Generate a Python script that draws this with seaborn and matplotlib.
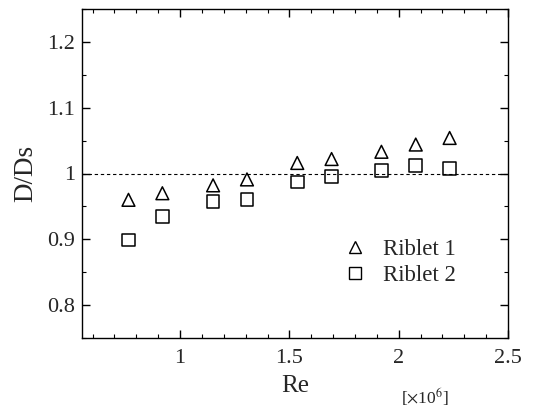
import matplotlib
matplotlib.use("Agg")
import matplotlib.pyplot as plt
from matplotlib.ticker import MultipleLocator
from matplotlib.lines import Line2D
import pandas as pd
import seaborn as sns

# Reynolds number (x 10^6) and drag ratio for two riblet surfaces
re_values = [0.764, 0.919, 1.151, 1.306, 1.536, 1.693, 1.921, 2.078, 2.233]
riblet1 = [0.960, 0.970, 0.982, 0.991, 1.016, 1.022, 1.033, 1.044, 1.054]
riblet2 = [0.899, 0.935, 0.958, 0.960, 0.987, 0.996, 1.005, 1.012, 1.007]
series_names = ["Riblet 1", "Riblet 2"]
x_ticks = [1, 1.5, 2, 2.5]
x_tick_labels = ["1", "1.5", "2", "2.5"]
y_ticks = [0.8, 0.9, 1.0, 1.1, 1.2]
y_tick_labels = ["0.8", "0.9", "1", "1.1", "1.2"]

df = pd.DataFrame({
    "Re": re_values * 2,
    "D/Ds": riblet1 + riblet2,
    "series": [series_names[0]] * len(re_values) + [series_names[1]] * len(re_values),
})

sns.set_theme(style="ticks")
plt.rcParams["font.family"] = ["Liberation Serif", "DejaVu Serif"]
plt.rcParams["mathtext.fontset"] = "stix"

fig = plt.figure(figsize=(5.33, 4.07), dpi=100)
ax = fig.add_axes([81.7 / 533, 1 - 338 / 407, (508 - 81.7) / 533, (338 - 9) / 407])

# reference line at D/Ds = 1
ax.axhline(1.0, color="black", lw=0.8, ls=(0, (3, 2.5)), zorder=1)

sns.scatterplot(
    data=df, x="Re", y="D/Ds", style="series", hue="series",
    markers={"Riblet 1": "^", "Riblet 2": "s"},
    palette={"Riblet 1": "black", "Riblet 2": "black"},
    s=85, linewidth=1.1, ax=ax, legend=False, zorder=3,
)
# open markers
for coll in ax.collections:
    coll.set_facecolor("none")
    coll.set_edgecolor("black")

ax.set_xlim(0.55, 2.5)
ax.set_ylim(0.75, 1.25)
ax.xaxis.set_minor_locator(MultipleLocator(0.1))
ax.yaxis.set_minor_locator(MultipleLocator(0.05))
ax.set_xticks(x_ticks)
ax.set_xticklabels(x_tick_labels)
ax.set_yticks(y_ticks)
ax.set_yticklabels(y_tick_labels)

ax.tick_params(which="both", direction="in", top=True, right=True, color="black")
ax.tick_params(which="major", length=6, width=1.0, labelsize=16, pad=5)
ax.tick_params(axis="x", which="major", pad=8)
ax.tick_params(which="minor", length=3, width=0.8)
for sp in ax.spines.values():
    sp.set_color("black")
    sp.set_linewidth(1.0)

ax.set_xlabel("Re", fontsize=18, labelpad=5)
ax.set_ylabel("D/Ds", fontsize=19.5, labelpad=6)
fig.text(425 / 533, 1 - 397 / 407, r"[$\times$10$^6$]", fontsize=12.5, ha="center", va="center")

# legend with open markers
handles = [
    Line2D([], [], marker="^", ls="none", mfc="none", mec="black", ms=8.5, mew=1.0),
    Line2D([], [], marker="s", ls="none", mfc="none", mec="black", ms=8, mew=1.0),
]
ax.legend(handles, series_names, loc="upper left", bbox_to_anchor=(0.615, 0.30),
          frameon=False, fontsize=16.5, handlelength=1.0, handletextpad=0.7,
          labelspacing=0.22, borderaxespad=0, borderpad=0)

fig.savefig("out.png", dpi=100, facecolor="white")
